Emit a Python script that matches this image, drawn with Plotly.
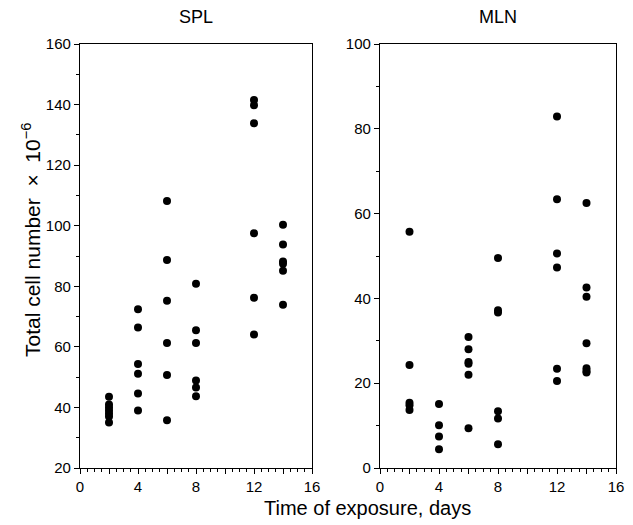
import plotly.graph_objects as go

# SPL (spleen) total cell number x 10^-6 by day of exposure
spl_days = [2] * 7 + [4] * 6 + [6] * 6 + [8] * 6 + [12] * 6 + [14] * 6
spl_cells = [
    43.5, 41, 40, 39, 38, 37, 35,
    72.4, 66.4, 54.3, 51.1, 44.6, 39.0,
    108.2, 88.7, 75.2, 61.3, 50.7, 35.8,
    80.8, 65.5, 61.3, 48.9, 46.6, 43.7,
    141.5, 139.8, 133.8, 97.5, 76.2, 64.1,
    100.3, 93.8, 88.2, 87.4, 85.1, 73.9,
]

# MLN (mediastinal lymph node)
mln_days = [2] * 5 + [4] * 4 + [6] * 6 + [8] * 6 + [12] * 6 + [14] * 7
mln_cells = [
    55.7, 24.3, 15.4, 14.8, 13.7,
    15.1, 10.1, 7.4, 4.4,
    30.9, 28.0, 25.0, 24.6, 22.0, 9.4,
    49.5, 37.2, 36.7, 13.4, 11.7, 5.6,
    82.9, 63.4, 50.6, 47.3, 23.4, 20.5,
    62.5, 42.6, 40.4, 29.4, 23.5, 22.9, 22.5,
]

x_tickvals = [0, 2, 4, 6, 8, 10, 12, 14, 16]
x_ticktext = ["0", "", "4", "", "8", "", "12", "", "16"]

# page body has an 8px margin, so positions below are screen pixels minus 8
L, R, T, B = 72, 25, 36, 65
W, H = 633, 525
plot_w = W - L - R
plot_h = H - T - B


def px(x, y):
    # screen pixel (from top-left of window) -> paper coords
    return (x - 8 - L) / plot_w, (H - (y - 8) - B) / plot_h


marker = dict(color="black", size=8)
fig = go.Figure()
fig.add_trace(go.Scatter(x=spl_days, y=spl_cells, mode="markers",
                         marker=marker, xaxis="x", yaxis="y", showlegend=False))
fig.add_trace(go.Scatter(x=mln_days, y=mln_cells, mode="markers",
                         marker=marker, xaxis="x2", yaxis="y2", showlegend=False))

axis_common = dict(showline=True, linecolor="black", linewidth=1.3, mirror=True,
                   showgrid=False, zeroline=False, ticks="outside",
                   tickcolor="black", ticklen=5, tickwidth=1.2,
                   tickfont=dict(size=15, color="black"))

xaxis_common = dict(axis_common, range=[0, 16], tickvals=x_tickvals, ticktext=x_ticktext,
                    minor=dict(dtick=0.5, ticks="outside", ticklen=3, tickcolor="black"))
yminor = dict(dtick=10, ticks="outside", ticklen=3, tickcolor="black")

ann = []
for text, x, y, size, angle in [
    ("SPL", 196, 17, 18, 0),
    ("MLN", 498, 17, 18, 0),
    ("Time of exposure, days", 367, 508, 20, 0),
    ("Total cell number \u00a0\u00d7\u00a0 10<sup>\u22126</sup>", 31, 240, 21, -90),
]:
    ax, ay = px(x, y)
    ann.append(dict(text=text, x=ax, y=ay, xref="paper", yref="paper",
                    xanchor="center", yanchor="middle", showarrow=False,
                    textangle=angle, font=dict(size=size)))

fig.update_layout(
    width=W, height=H,
    paper_bgcolor="white", plot_bgcolor="white",
    font=dict(family="Liberation Sans, Arial, sans-serif", color="black"),
    margin=dict(l=L, r=R, t=T, b=B),
    xaxis=dict(xaxis_common, domain=[0, 232 / plot_w], anchor="y"),
    yaxis=dict(axis_common, range=[20, 160], dtick=20, domain=[0, 1], anchor="x",
               minor=yminor),
    xaxis2=dict(xaxis_common, domain=[300 / plot_w, 1], anchor="y2"),
    yaxis2=dict(axis_common, range=[0, 100], dtick=20, domain=[0, 1], anchor="x2",
                minor=yminor),
    annotations=ann,
)

fig.write_html("out.html")
